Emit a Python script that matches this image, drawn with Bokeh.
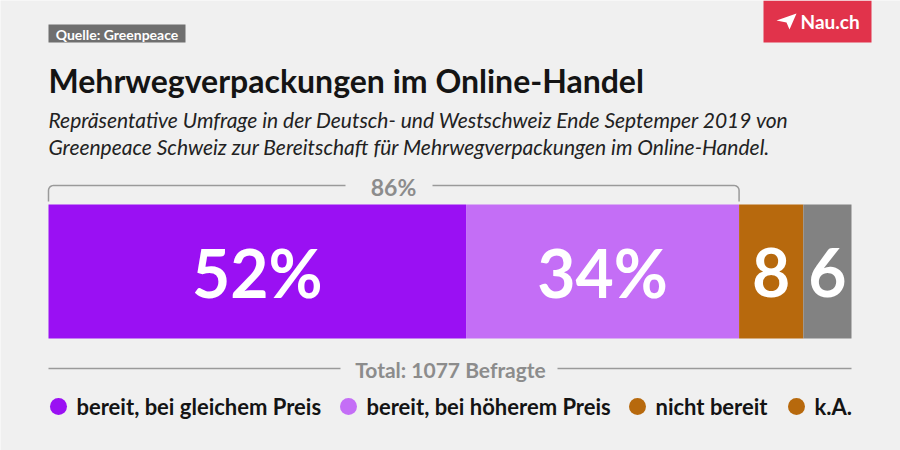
import numpy as np
from bokeh.plotting import figure
from bokeh.models import Range1d, ColumnDataSource
from bokeh.core.properties import value
from bokeh.embed import file_html
from bokeh.resources import INLINE

# ---- data ----
categories = ["bereit, bei gleichem Preis", "bereit, bei höherem Preis", "nicht bereit", "k.A."]
values = [52, 34, 8, 6]
bar_labels = ["52%", "34%", "8", "6"]
bar_colors = ["#9a10f3", "#c46ef6", "#b7690d", "#828282"]
legend_colors = ["#9a10f3", "#c46ef6", "#b7690d", "#b7690d"]
total_respondents = 1077
bracket_label = "86%"
source_text = "Quelle: Greenpeace"
title_text = "Mehrwegverpackungen im Online-Handel"
subtitle_lines = [
    "Repräsentative Umfrage in der Deutsch- und Westschweiz Ende Septemper 2019 von",
    "Greenpeace Schweiz zur Bereitschaft für Mehrwegverpackungen im Online-Handel.",
]

# ---- layout (pixels) ----
W, H = 900, 450
BAR_L, BAR_R = 48, 851
BG = "#f0f0f0"
FONT = value("Lato")


def sx(px):
    """pixel x -> percent scale used by the bar axis"""
    return (np.asarray(px, dtype=float) - BAR_L) / (BAR_R - BAR_L) * 100.0


p = figure(width=W, height=H, x_range=Range1d(float(sx(0)), float(sx(W))),
           y_range=Range1d(H, 0), output_backend="svg", toolbar_location=None,
           x_axis_type=None, y_axis_type=None, min_border=0,
           outline_line_color=None, background_fill_color=BG, border_fill_color=BG)
p.grid.visible = False

# ---- bars ----
ends = np.cumsum(values)
starts = ends - np.array(values)
src = ColumnDataSource(dict(left=starts, right=ends, color=bar_colors,
                            mid=(starts + ends) / 2, label=bar_labels))
p.quad(left="left", right="right", top=204, bottom=338, fill_color="color",
       line_color=None, source=src)
p.text(x="mid", y=272, text="label", source=src, text_font=FONT,
       text_font_style="bold", text_font_size="66px", text_color="white",
       text_align="center", text_baseline="middle")

# ---- bracket over first two categories ----
bracket_end = values[0] + values[1]
r = 5
ang = np.linspace(np.pi, 1.5 * np.pi, 8)
lx_px = list(BAR_L + r + r * np.cos(ang))
ly_px = list(185 + r + r * np.sin(ang))
left_x = [float(sx(BAR_L))] + list(sx(lx_px)) + [float(sx(345))]
left_y = [201] + ly_px + [185]
bx_end_px = BAR_L + bracket_end / 100 * (BAR_R - BAR_L)
ang2 = np.linspace(1.5 * np.pi, 2 * np.pi, 8)
rx_px = list(bx_end_px - r + r * np.cos(ang2))
ry_px = list(185 + r + r * np.sin(ang2))
right_x = [float(sx(432))] + list(sx(rx_px)) + [bracket_end]
right_y = [185] + ry_px + [201]
p.multi_line(xs=[left_x, right_x], ys=[left_y, right_y], line_color="#9a9a9a", line_width=1.5)
p.text(x=[float(sx(393))], y=[186], text=[bracket_label], text_font=FONT,
       text_font_style="bold", text_font_size="23px", text_color="#8c8c8c",
       text_align="center", text_baseline="middle")

# ---- total line ----
p.segment(x0=[0, float(sx(557))], x1=[float(sx(340)), 100], y0=[368, 368], y1=[368, 368],
          line_color="#9a9a9a", line_width=1.5)
p.text(x=[float(sx(450))], y=[369], text=[f"Total: {total_respondents} Befragte"],
       text_font=FONT, text_font_style="bold", text_font_size="21px",
       text_color="#8c8c8c", text_align="center", text_baseline="middle")

# ---- legend ----
leg_dot_px = [58, 348, 637, 796]
p.scatter(x=sx(leg_dot_px), y=[406] * 4, size=17, fill_color=legend_colors, line_color=None)
p.text(x=sx(np.array(leg_dot_px) + 18), y=[406] * 4, text=categories, text_font=FONT,
       text_font_style="bold", text_font_size="22px", text_color="#141414",
       text_align="left", text_baseline="middle")

# ---- title / subtitle ----
p.text(x=[0], y=[80], text=[title_text], text_font=FONT, text_font_style="bold",
       text_font_size="32px", text_color="#141414", text_align="left", text_baseline="middle")
p.text(x=[0, 0], y=[119, 146], text=subtitle_lines, text_font=FONT,
       text_font_style="italic", text_font_size="21px", text_color="#222222",
       text_align="left", text_baseline="middle")

# ---- source tag ----
p.quad(left=[float(sx(48))], right=[float(sx(185))], top=[24], bottom=[42],
       fill_color="#6f6f6f", line_color=None)
p.text(x=[float(sx(116.5))], y=[33.5], text=[source_text], text_font=FONT,
       text_font_style="bold", text_font_size="14px", text_color="white",
       text_align="center", text_baseline="middle")

# ---- logo ----
p.quad(left=[float(sx(763))], right=[float(sx(871))], top=[0], bottom=[42],
       fill_color="#e1334b", line_color=None)
plane_px = [776, 796, 789, 786]
plane_py = [20, 13, 29, 22]
p.patch(x=sx(plane_px), y=plane_py, fill_color="white", line_color=None)
p.text(x=[float(sx(800))], y=[21], text=["Nau.ch"], text_font=FONT, text_font_style="bold",
       text_font_size="19px", text_color="white", text_align="left", text_baseline="middle")

open("out.html", "w").write(file_html(p, INLINE))
